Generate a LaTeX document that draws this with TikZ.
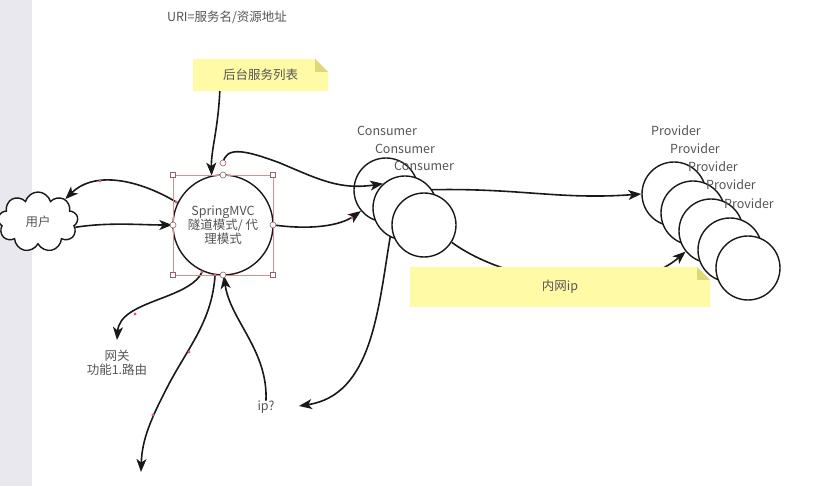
\documentclass[tikz,border=0pt]{standalone}
\usepackage{fontspec}
\setmainfont{Noto Sans CJK SC}
\usetikzlibrary{arrows.meta,shapes.symbols}
\definecolor{stripgray}{RGB}{232,232,238}
\definecolor{noteyel}{RGB}{255,250,165}
\definecolor{notefold}{RGB}{222,216,120}
\definecolor{txtgray}{RGB}{85,85,85}
\definecolor{selpink}{RGB}{215,140,150}
\definecolor{dotred}{RGB}{230,90,110}
\definecolor{linek}{RGB}{25,25,25}
\tikzset{
  lbl/.style={font=\fontsize{12.5}{13.5}\selectfont, text=txtgray, inner sep=1pt, align=center},
  ball/.style={circle, draw=linek, line width=1.4pt, fill=white, minimum size=64pt, inner sep=0pt},
  conn/.style={line width=1.6pt, draw=linek, -{Stealth[length=13pt,width=10pt,inset=3.5pt]}},
  hsq/.style={rectangle, draw=selpink!70!black, fill=white, line width=0.6pt, minimum size=5pt, inner sep=0pt},
  hci/.style={circle, draw=selpink!70!black, fill=white, line width=0.6pt, minimum size=6pt, inner sep=0pt},
  rdot/.style={fill=dotred},
}
\begin{document}
\begin{tikzpicture}[x=1pt,y=-1pt]
\useasboundingbox (0,0) rectangle (836,486);
\fill[white] (0,0) rectangle (836,486);
\fill[stripgray] (0,0) rectangle (32,486);

% top caption
\node[lbl] (uri) at (227,17) {URI=服务名/资源地址};

% note 1
\fill[noteyel] (193,59) -- (315,59) -- (328,72) -- (328,91) -- (193,91) -- cycle;
\fill[notefold] (315,59) -- (315,72) -- (328,72) -- cycle;
\node[lbl, minimum width=135pt, minimum height=32pt, inner sep=0pt] (note1) at (260.5,75) {后台服务列表};

% user cloud
\node[cloud, cloud puffs=9, aspect=1.4, draw=linek, line width=1.4pt, fill=white,
      minimum width=80pt, minimum height=60pt, inner sep=0pt, font=\fontsize{12.5}{13.5}\selectfont, text=txtgray] (user) at (38,222) {用户};

% SpringMVC
\node[circle, draw=linek, line width=1.4pt, fill=white, minimum size=100pt, inner sep=0pt,
      lbl] (smvc) at (223,225) {SpringMVC\\隧道模式/ 代\\理模式};

% consumers
\node[ball] (c1) at (386,190) {};
\node[ball] (c2) at (405,208) {};
\node[ball] (c3) at (424,225) {};
\node[lbl] (c1l) at (387,131) {Consumer};
\node[lbl] (c2l) at (405,149) {Consumer};
\node[lbl] (c3l) at (424,166) {Consumer};

% providers
\node[ball] (p1) at (674,194) {};
\node[ball] (p2) at (693,213) {};
\node[ball] (p3) at (711,231) {};
\node[ball] (p4) at (730,250) {};
\node[ball] (p5) at (748,268) {};
\node[lbl] (p1l) at (676,131) {Provider};
\node[lbl] (p2l) at (695,149) {Provider};
\node[lbl] (p3l) at (713,167) {Provider};
\node[lbl] (p4l) at (731,185) {Provider};
\node[lbl] (p5l) at (749,204) {Provider};

% consumer3 -> provider3 (behind the note)
\draw[conn] (c3.-32) .. controls (510,285) and (630,300) .. (p3.219);

% note 2
\fill[noteyel] (410,267) -- (697,267) -- (710,280) -- (710,307) -- (410,307) -- cycle;
\fill[notefold] (697,267) -- (697,280) -- (710,280) -- cycle;
\node[lbl, minimum width=300pt, minimum height=40pt, inner sep=0pt] (note2) at (560,287) {内网ip};

% bottom labels
\node[lbl] (gw) at (117,363) {网关\\功能1.路由};
\node[lbl, inner sep=0pt] (ip) at (266,407) {ip?};
\coordinate (gwT) at (117,340);
\coordinate (ipR) at (299,406);
\coordinate (downT) at (141,472);
\coordinate (topS) at (223,163);

% connectors
\draw[conn] ([xshift=27pt]note1.south west) .. controls (218,130) and (211,150) .. (smvc.103);
\draw[conn] (topS) .. controls (226,146) and (245,150) .. (280,163) .. controls (320,180) and (340,190) .. (c2.132);
\draw[conn] (smvc.154) .. controls (140,180) and (95,170) .. (user.40);
\draw[conn] (user.-8) .. controls (110,222) and (140,225) .. (smvc.west);
\draw[conn] (smvc.east) .. controls (310,230) and (340,226) .. (c1.220);
\draw[conn] (c2.34) .. controls (520,188) and (560,200) .. (p1.west);
\draw[conn] (c2.243) .. controls (378,310) and (372,395) .. (ipR);
\draw[conn] (ip.north) .. controls (268,350) and (230,320) .. (smvc.-89);
\draw[conn] (smvc.246) .. controls (190,300) and (120,300) .. (gwT);
\draw[conn] (smvc.261) .. controls (212,320) and (190,345) .. (170,382) .. controls (150,420) and (142,440) .. (downT);

% selection frame
\draw[selpink, line width=0.5pt] (173,175) rectangle (273,275);
\node[hsq] (h1) at (173,175) {};
\node[hsq] (h2) at (273,175) {};
\node[hsq] (h3) at (173,275) {};
\node[hsq] (h4) at (273,275) {};
\node[hci] (h5) at (223,175) {};
\node[hci] (h6) at (273,225) {};
\node[hci] (h7) at (173,225) {};
\node[hci] (h8) at (223,275) {};
\node[hci] (h9) at (223,163) {};

% waypoint dots
\fill[rdot] (176,202) circle (1.6pt);
\fill[rdot] (100,181) circle (1.6pt);
\fill[rdot] (202,272) circle (1.6pt);
\fill[rdot] (215,275) circle (1.6pt);
\fill[rdot] (135,314) circle (1.6pt);
\fill[rdot] (189,352) circle (1.6pt);
\fill[rdot] (153,415) circle (1.6pt);
\fill[rdot] (352,218) circle (1.6pt);
\end{tikzpicture}
\end{document}
